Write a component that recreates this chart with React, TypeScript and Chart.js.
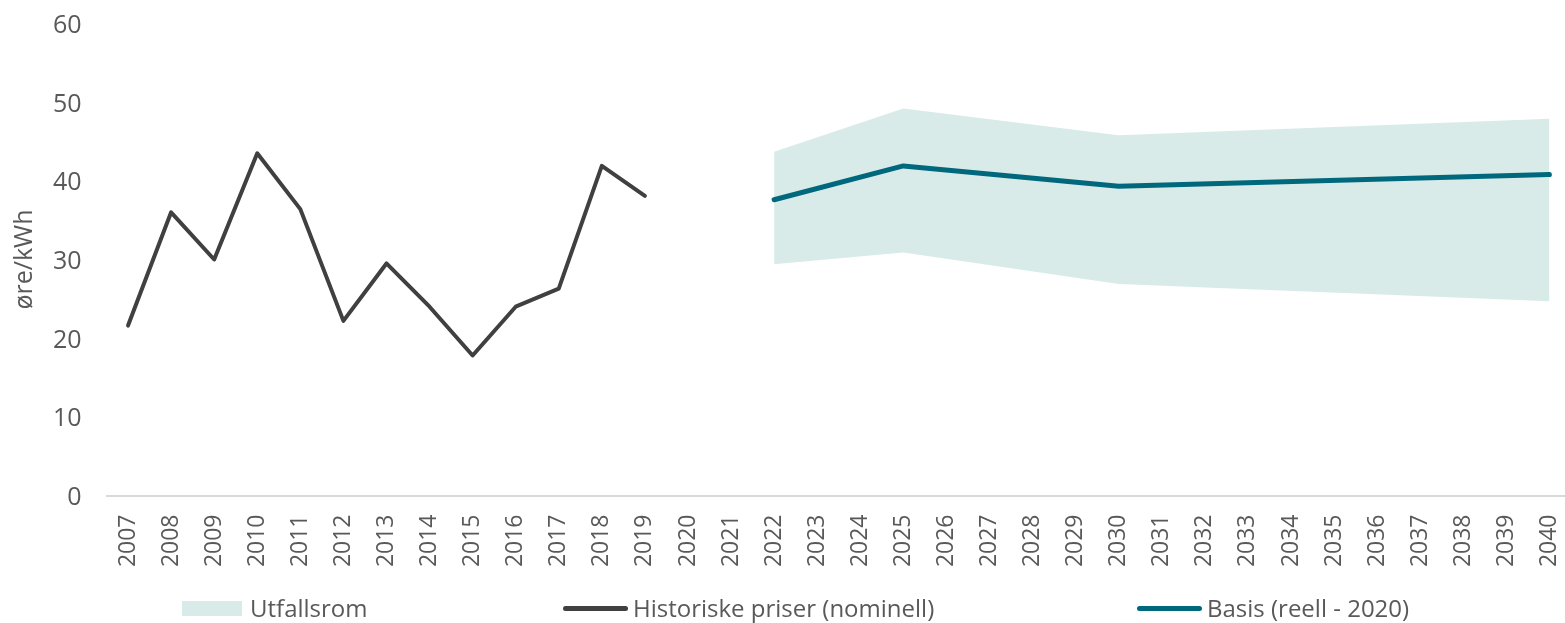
import React, { useEffect, useRef } from "react";
import { Chart, registerables } from "chart.js";

Chart.register(...registerables);

// ---- data ----
const years: string[] = [
  "2007", "2008", "2009", "2010", "2011", "2012", "2013", "2014", "2015", "2016",
  "2017", "2018", "2019", "2020", "2021", "2022", "2023", "2024", "2025", "2026",
  "2027", "2028", "2029", "2030", "2031", "2032", "2033", "2034", "2035", "2036",
  "2037", "2038", "2039", "2040",
];

const historicYears: string[] = [
  "2007", "2008", "2009", "2010", "2011", "2012", "2013", "2014", "2015", "2016",
  "2017", "2018", "2019",
];
const historicPrices: number[] = [
  21.6, 36.0, 30.0, 43.5, 36.4, 22.2, 29.5, 24.0, 17.8, 24.0, 26.3, 41.9, 38.1,
];

const forecastYears: string[] = ["2022", "2025", "2030", "2040"];
const basisPrices: number[] = [37.6, 41.9, 39.3, 40.8];
const rangeLow: number[] = [29.4, 30.9, 26.9, 24.7];
const rangeHigh: number[] = [43.7, 49.2, 45.8, 47.9];

const yTicks: number[] = [0, 10, 20, 30, 40, 50, 60];

const seriesNames = {
  range: "Utfallsrom",
  historic: "Historiske priser (nominell)",
  basis: "Basis (reell - 2020)",
};

// ---- styles ----
const COLORS = {
  band: "#D9EBE9",
  historic: "#404040",
  basis: "#00687D",
  text: "#595959",
  axis: "#D9D9D9",
};
const FONT = '"Open Sans", sans-serif';

function align(srcYears: string[], values: number[]): (number | null)[] {
  return years.map((y) => {
    const i = srcYears.indexOf(y);
    return i >= 0 ? values[i] : null;
  });
}

export default function App() {
  const ref = useRef<HTMLCanvasElement>(null);

  useEffect(() => {
    const prevMargin = document.body.style.margin;
    document.body.style.margin = "0";
    if (!ref.current) return;
    const chart = new Chart(ref.current, {
      type: "line",
      data: {
        labels: years,
        datasets: [
          {
            label: seriesNames.basis,
            data: align(forecastYears, basisPrices),
            borderColor: COLORS.basis,
            borderWidth: 5,
            borderCapStyle: "round",
            borderJoinStyle: "round",
            pointRadius: 0,
            spanGaps: true,
            fill: false,
            tension: 0,
          },
          {
            label: seriesNames.historic,
            data: align(historicYears, historicPrices),
            borderColor: COLORS.historic,
            borderWidth: 4,
            borderCapStyle: "round",
            borderJoinStyle: "round",
            pointRadius: 0,
            fill: false,
            tension: 0,
          },
          {
            label: "low",
            data: align(forecastYears, rangeLow),
            borderWidth: 0,
            borderColor: "rgba(0,0,0,0)",
            pointRadius: 0,
            spanGaps: true,
            fill: false,
          },
          {
            label: seriesNames.range,
            data: align(forecastYears, rangeHigh),
            borderWidth: 0,
            borderColor: "rgba(0,0,0,0)",
            backgroundColor: COLORS.band,
            pointRadius: 0,
            spanGaps: true,
            fill: "-1",
          },
        ],
      },
      options: {
        animation: false,
        responsive: false,
        devicePixelRatio: 1,
        layout: { padding: { top: 23.5, right: 0, left: 0, bottom: 0 } },
        plugins: {
          legend: { display: false },
          tooltip: { enabled: false },
        },
        scales: {
          x: {
            type: "category",
            offset: true,
            grid: { display: false, drawTicks: true, tickLength: 19 },
            border: { display: true, color: COLORS.axis, width: 2 },
            ticks: {
              color: COLORS.text,
              font: { family: FONT, size: 23 },
              maxRotation: 90,
              minRotation: 90,
              autoSkip: false,
              padding: 0,
            },
            afterFit: (s: any) => {
              s.height = 102.5;
            },
          },
          y: {
            min: 0,
            max: 60,
            afterBuildTicks: (s: any) => {
              s.ticks = yTicks.map((v) => ({ value: v }));
            },
            grid: { display: false, drawTicks: true, tickLength: 22 },
            border: { display: false },
            ticks: {
              color: COLORS.text,
              font: { family: FONT, size: 25 },
              padding: 3,
              labelOffset: 2.5,
            },
            title: {
              display: true,
              text: "øre/kWh",
              color: COLORS.text,
              font: { family: FONT, size: 25 },
              padding: { top: 10, bottom: 0 },
            },
            afterFit: (s: any) => {
              s.width = 106.5;
            },
          },
        },
      },
    });
    return () => {
      chart.destroy();
      document.body.style.margin = prevMargin;
    };
  }, []);

  const legendItems = [
    { name: seriesNames.range, kind: "box", color: COLORS.band, left: 182 },
    { name: seriesNames.historic, kind: "line", color: COLORS.historic, left: 563 },
    { name: seriesNames.basis, kind: "line", color: COLORS.basis, left: 1137 },
  ];

  return (
    <div style={{ position: "relative", width: 1565, height: 623 }}>
      <div style={{ position: "absolute", left: 0, top: 0, width: 1565, height: 598, overflow: "hidden" }}>
        <canvas
          ref={ref}
          width={1577}
          height={598}
          style={{ display: "block", width: 1577, height: 598 }}
        />
      </div>
      {legendItems.map((it) => (
        <div
          key={it.name}
          style={{
            position: "absolute",
            left: it.left,
            top: 593,
            height: 30,
            display: "flex",
            alignItems: "center",
            whiteSpace: "nowrap",
            fontFamily: FONT,
            fontSize: 24,
            color: COLORS.text,
          }}
        >
          {it.kind === "box" ? (
            <span style={{ display: "inline-block", width: 60, height: 15, background: it.color, marginRight: 8 }} />
          ) : (
            <span
              style={{
                display: "inline-block",
                width: 65,
                height: 5,
                borderRadius: 3,
                background: it.color,
                marginRight: 5,
              }}
            />
          )}
          <span style={{ lineHeight: "30px" }}>{it.name}</span>
        </div>
      ))}
    </div>
  );
}
